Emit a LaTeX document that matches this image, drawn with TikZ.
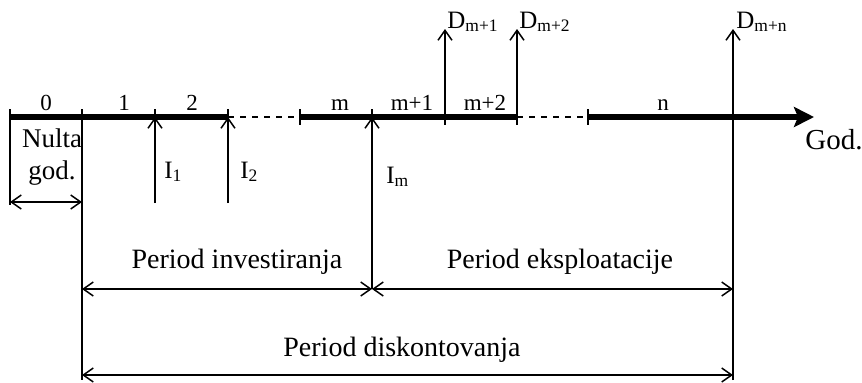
\documentclass[tikz,border=0pt]{standalone}
\usepackage{fontspec}
\setmainfont{Liberation Serif}
\usetikzlibrary{arrows.meta}

\begin{document}
\begin{tikzpicture}[
  x=0.5pt, y=-0.5pt,
  ln/.style={line width=0.75pt},
  axis/.style={line width=3pt},
  gap/.style={line width=0.75pt, dash pattern=on 3pt off 3pt},
  flow/.style={ln, -{Straight Barb[length=5pt,width=7pt]}},
  span/.style={ln, {Straight Barb[length=5pt,width=7pt]}-{Straight Barb[length=5pt,width=7pt]}},
  yr/.style={font=\fontsize{11.5}{13}\selectfont, anchor=base, inner sep=0pt},
  cf/.style={font=\fontsize{12.5}{14}\selectfont, anchor=base west, inner sep=0pt},
  per/.style={font=\fontsize{14}{16}\selectfont, anchor=base, inner sep=0pt}
]
\useasboundingbox (0,0) rectangle (862,382);

% points on the time axis
\foreach \n/\x in {0/10,1/82,2/155,3/228,4/300,5/372,6/445,7/517,8/588,9/733}
  \coordinate (t\n) at (\x,117);
\coordinate (tend) at (814,117);

\draw[axis] (t0) -- (t3);
\draw[gap] (t3) -- (t4);
\draw[axis] (t4) -- (t7);
\draw[gap] (t7) -- (t8);
\draw[axis, -{Stealth[length=10pt,width=10pt,inset=2pt]}] (t8) -- (tend);
\foreach \n in {0,...,9}
  \draw[ln] (t\n) ++(0,-8) -- ++(0,16);

% years
\node[yr] (y0) at (46,110) {0};
\node[yr] (y1) at (124,110) {1};
\node[yr] (y2) at (192,110) {2};
\node[yr] (ym) at (340,110) {m};
\node[yr] (ym1) at (412,110) {m+1};
\node[yr] (ym2) at (485,110) {m+2};
\node[yr] (yn) at (663,110) {n};
\node[cf, font=\fontsize{14.5}{16}\selectfont] (god) at (805,149) {God.};

% zero year
\coordinate (z0) at (10,205);
\coordinate (n0) at (10,202);
\coordinate (n1) at (82,202);
\coordinate (b1) at (82,380);
\draw[ln] (t0) -- (z0);
\draw[ln] (t1) -- (b1);
\draw[span] (n0) -- (n1);
\node[align=center, inner sep=0pt, anchor=north, font=\fontsize{13.5}{16}\selectfont]
  (nulta) at (52,128) {Nulta\\god.};

% investments
\coordinate (i1) at (155,203);
\coordinate (i2) at (228,203);
\coordinate (im) at (372,289);
\draw[flow] (i1) -- (t2);
\draw[flow] (i2) -- (t3);
\draw[flow] (im) -- (t5);
\node[cf] (li1) at (164,178) {I\textsubscript{1}};
\node[cf] (li2) at (240,178) {I\textsubscript{2}};
\node[cf] (lim) at (386,183) {I\textsubscript{m}};

% returns
\coordinate (d1) at (445,29);
\coordinate (d2) at (517,29);
\coordinate (dn) at (733,29);
\coordinate (b9) at (733,380);
\draw[flow] (t6) -- (d1);
\draw[flow] (t7) -- (d2);
\draw[flow] (b9) -- (dn);
\node[cf] (ld1) at (447,28) {D\textsubscript{m+1}};
\node[cf] (ld2) at (519,28) {D\textsubscript{m+2}};
\node[cf] (ldn) at (736,28) {D\textsubscript{m+n}};

% periods
\coordinate (pa) at (82,289);
\coordinate (pc) at (733,289);
\coordinate (qa) at (82,375);
\coordinate (qb) at (733,375);
\draw[span] (pa) -- (im);
\draw[span] (im) -- (pc);
\draw[span] (qa) -- (qb);
\node[per] (inv) at (237,268) {Period investiranja};
\node[per] (eks) at (560,268) {Period eksploatacije};
\node[per] (dis) at (402,356) {Period diskontovanja};
\end{tikzpicture}
\end{document}
